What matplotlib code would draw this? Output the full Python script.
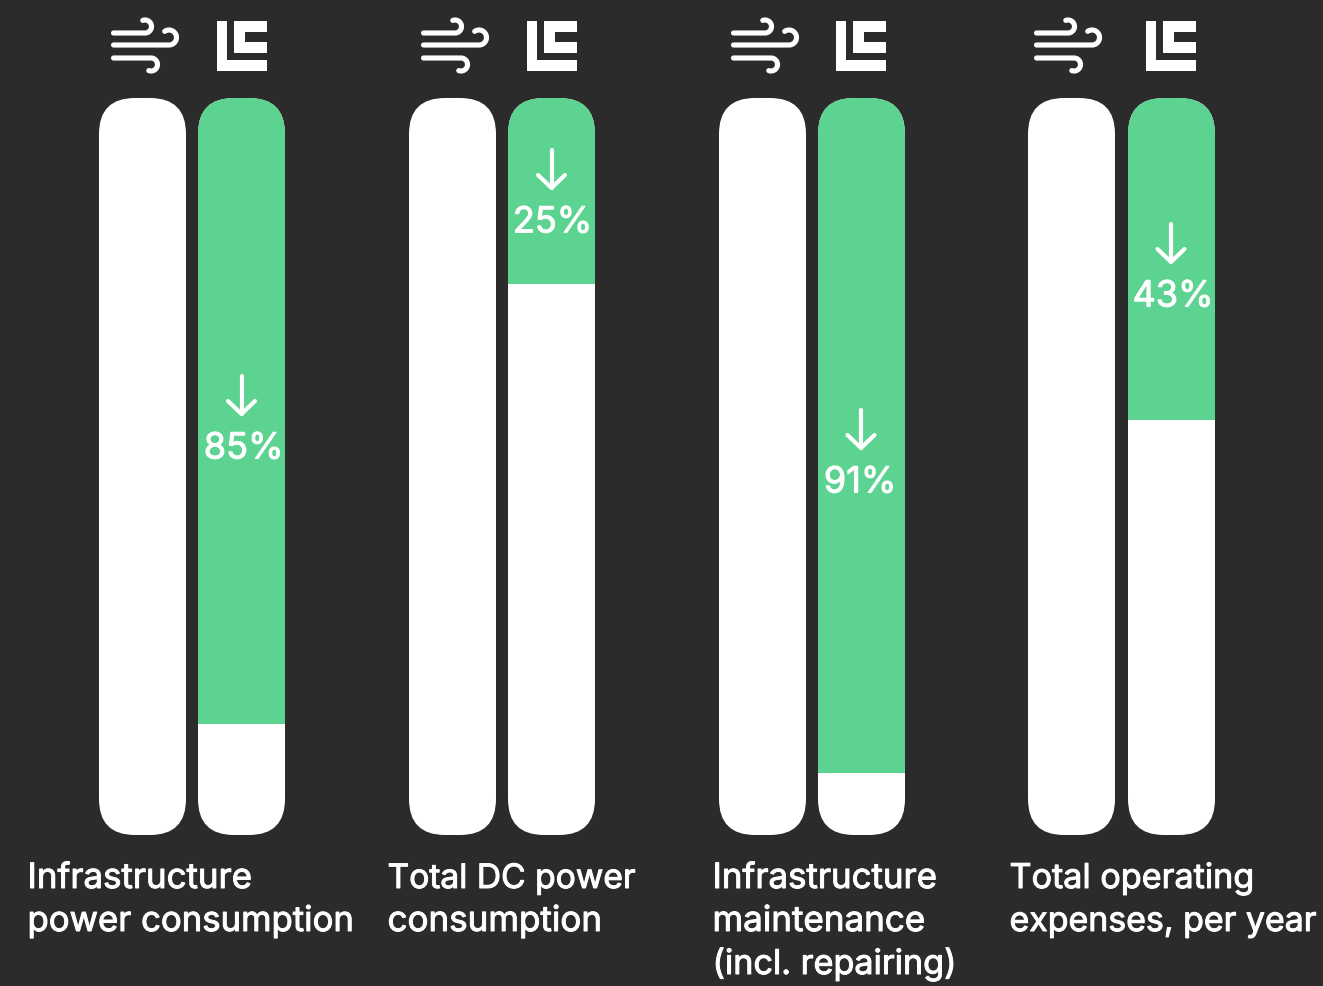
import numpy as np
import matplotlib
matplotlib.use("Agg")
import matplotlib.pyplot as plt
import matplotlib.patheffects as pe
from matplotlib.patches import FancyBboxPatch, Polygon

# values
labels = [
    ["Infrastructure", "power consumption"],
    ["Total DC power", "consumption"],
    ["Infrastructure", "maintenance", "(incl. repairing)"],
    ["Total operating", "expenses, per year"],
]
pct_labels = ["85%", "25%", "91%", "43%"]
green_heights = [85, 25.2, 91.6, 43.7]
full_height = [100, 100, 100, 100]

# layout, in pixels of the 1323x986 picture
left_bar_x = [99, 409, 719, 1028]
right_bar_x = [198, 508, 818, 1128]
text_x = [27.5, 387.5, 712.5, 1009.5]
label_sizes = [[25.1, 25], [24.2, 25.2], [25.1, 25.2, 24.6], [24.6, 24.4]]
wind_dx = [0, 310, 620, 923]
logo_dx = [0, 310, 619, 929]
arrow_x = [241.5, 551.5, 861, 1171]
arrow_top = [375, 149, 409, 223]
pct_x = [243.5, 552.5, 860, 1173]
pct_y = [449, 223, 483, 297]

W, H = 1323, 986
BAR_W, BAR_TOP, BAR_BOTTOM, RADIUS = 87, 98, 835, 36
BG = "#2b2b2b"
GREEN = "#5cd390"

plt.rcParams["font.family"] = ["Inter", "DejaVu Sans"]

fig = plt.figure(figsize=(W / 100, H / 100), dpi=100, facecolor=BG)

# pixel axes for icons and text
ax = fig.add_axes([0, 0, 1, 1], zorder=2)
ax.set_xlim(0, W)
ax.set_ylim(H, 0)
ax.axis("off")

# percent axes for the bars, 0 at the bar top and 100 at the bar bottom
px_per_pct = (BAR_BOTTOM - BAR_TOP) / 100
bars = fig.add_axes([0, 0, 1, 1], zorder=1)
bars.set_xlim(0, W)
bars.set_ylim((H - BAR_TOP) / px_per_pct, -BAR_TOP / px_per_pct)
bars.axis("off")

# thin white stroke so the text looks medium weight
thick = [pe.withStroke(linewidth=0.7, foreground="white")]


def rounded_clip(x):
    return FancyBboxPatch((x + RADIUS, BAR_TOP + RADIUS), BAR_W - 2 * RADIUS,
                          BAR_BOTTOM - BAR_TOP - 2 * RADIUS,
                          boxstyle="round,pad=%d,rounding_size=%d" % (RADIUS, RADIUS),
                          transform=ax.transData, fc="none", ec="none")


def arc(cx, cy, r, a1, a2):
    t = np.radians(np.linspace(a1, a2, 40))
    return cx + r * np.cos(t), cy + r * np.sin(t)


def draw_wind(dx):
    # y axis points down, so angles run clockwise on screen
    curls = [(113.5, 33, 145, 26.5, 6.5, 90, -110),
             (113.5, 45, 169, 37.5, 7.5, 90, -125),
             (113.5, 58, 151, 64.5, 6.5, -90, 110)]
    for x0, y0, cx, cy, r, a1, a2 in curls:
        xs, ys = arc(cx, cy, r, a1, a2)
        ax.plot(np.r_[x0, xs] + dx, np.r_[y0, ys], color="white", lw=3.7,
                solid_capstyle="round", solid_joinstyle="round")


def draw_logo(dx):
    ell = [(217, 21), (227, 21), (227, 60), (267, 60), (267, 71), (217, 71)]
    cee = [(234, 21), (267, 21), (267, 32), (245, 32), (245, 42), (267, 42), (267, 53), (234, 53)]
    for pts in (ell, cee):
        ax.add_patch(Polygon([(x + dx, y) for x, y in pts], closed=True, fc="white", ec="none"))


for i in range(4):
    for x in (left_bar_x[i], right_bar_x[i]):
        white = bars.bar(x, full_height[i], width=BAR_W, align="edge", color="white")[0]
        white.set_clip_path(rounded_clip(x))
    green = bars.bar(right_bar_x[i], green_heights[i], width=BAR_W, align="edge", color=GREEN)[0]
    green.set_clip_path(rounded_clip(right_bar_x[i]))

    draw_wind(wind_dx[i])
    draw_logo(logo_dx[i])

    # down arrow
    a_x, top = arrow_x[i], arrow_top[i]
    ax.plot([a_x, a_x], [top + 1, top + 39], color="white", lw=3, solid_capstyle="round")
    ax.plot([a_x - 13.5, a_x, a_x + 13.5], [top + 26, top + 39, top + 26], color="white", lw=3,
            solid_capstyle="round", solid_joinstyle="round")

    ax.text(pct_x[i], pct_y[i], pct_labels[i], color="white", fontsize=26,
            ha="center", va="center", path_effects=thick)

    for j, line in enumerate(labels[i]):
        ax.text(text_x[i], 888 + 43 * j, line, color="white", fontsize=label_sizes[i][j],
                ha="left", va="baseline", path_effects=thick)

fig.savefig("out.png", dpi=100, facecolor=BG)
